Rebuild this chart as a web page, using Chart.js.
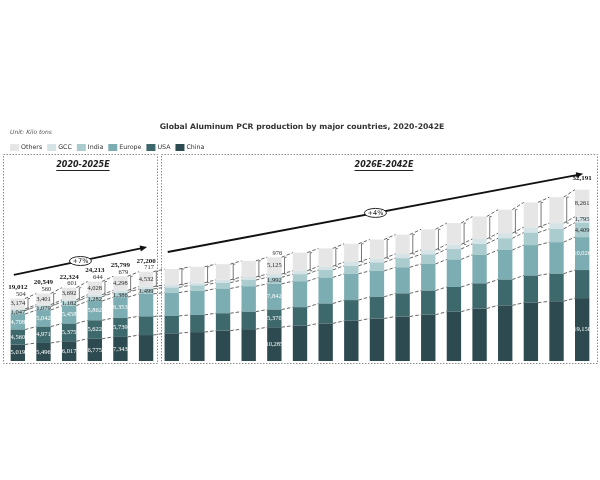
<!DOCTYPE html>
<html>
<head>
<meta charset="utf-8">
<script src="https://cdn.jsdelivr.net/npm/chart.js@4.4.1/dist/chart.umd.min.js"></script>
<style>
  html, body { margin: 0; padding: 0; background: #fff; }
  canvas { display: block; }
</style>
</head>
<body>
<canvas id="pcrChart" width="600" height="480"></canvas>
<script>
// values in kilo tons
const years = ['2020', '2021', '2022', '2023', '2024', '2025E', '2026E', '2027E', '2028E', '2029E', '2030E',
    '2031E', '2032E', '2033E', '2034E', '2035E', '2036E', '2037E', '2038E', '2039E', '2040E', '2041E', '2042E'];
const china  = [5019, 5496, 6017, 6775, 7343, 7900, 8440, 8800, 9250, 9700, 10285, 10750, 11450, 12250, 12950, 13550, 14100, 15000, 16000, 16950, 17750, 18200, 19150];
const usa    = [4560, 4971, 5375, 5622, 5739, 5700, 5280, 5250, 5300, 5330, 5370, 5650, 6050, 6300, 6600, 7050, 7350, 7550, 7650, 7850, 8300, 8400, 8550];
const europe = [4708, 5042, 5458, 5862, 6353, 6852, 7100, 7300, 7530, 7750, 7842, 7900, 7950, 8000, 7900, 7950, 8100, 8400, 8700, 9000, 9250, 9600, 10026];
const india  = [1047, 1079, 1182, 1282, 1386, 1499, 1600, 1700, 1780, 1880, 1992, 2150, 2300, 2450, 2600, 2780, 2950, 3150, 3350, 3580, 3800, 4080, 4409];
const gcc    = [504, 560, 601, 644, 679, 717, 760, 800, 860, 920, 976, 1030, 1090, 1150, 1210, 1280, 1340, 1400, 1480, 1560, 1640, 1720, 1795];
const others = [3174, 3401, 3692, 4028, 4298, 4532, 4820, 4850, 4780, 4920, 5125, 5520, 5460, 5550, 5740, 5890, 6260, 6500, 6820, 7160, 7560, 7900, 8261];
// totals as printed on the chart
const totals = {'2020': 19012, '2021': 20549, '2022': 22324, '2023': 24213, '2024': 25799, '2025E': 27200, '2042E': 52191};

// which bars carry value labels, and labels that are not shown
const labelledYears = ['2020', '2021', '2022', '2023', '2024', '2025E', '2030E', '2042E'];
const hiddenLabels = {'2025E': ['China', 'USA', 'Europe'], '2042E': ['USA']};

// panels and growth arrows
const panelNames = ['2020-2025E', '2026E-2042E'];
const trendFrom = ['2020', '2026E'];
const trendTo = ['2025E', '2042E'];
const trendFromValue = [26200, 33200];
const trendToValue = [34700, 57000];
const trendText = ['+7%', '+4%'];

const seriesNames = ['China', 'USA', 'Europe', 'India', 'GCC', 'Others'];
const seriesColors = ['#2c4a4f', '#3d686c', '#7badb2', '#abcccf', '#d6e3e6', '#e6e6e6'];
const seriesText = ['#ffffff', '#ffffff', '#ffffff', '#2b2b2b', '#2b2b2b', '#2b2b2b'];

const fmt = v => v.toLocaleString('en-US');
const sansFont = '"DejaVu Sans", sans-serif';
const serifFont = '"Liberation Serif", "DejaVu Serif", serif';

const decorations = {
    id: 'decorations',
    beforeDatasetsDraw(chart) {
        const ctx = chart.ctx;
        const x = chart.scales.x;
        const area = chart.chartArea;
        const split = (x.getPixelForValue(5) + x.getPixelForValue(6)) / 2;
        const top = area.top - 10;
        const bottom = area.bottom + 2;

        ctx.save();
        // header texts
        ctx.fillStyle = '#333';
        ctx.font = 'bold 7.7px ' + sansFont;
        ctx.textAlign = 'center';
        ctx.textBaseline = 'middle';
        ctx.fillText('Global Aluminum PCR production by major countries, 2020-2042E', 302, 127);
        ctx.font = 'italic 6px ' + sansFont;
        ctx.fillStyle = '#555';
        ctx.textAlign = 'left';
        ctx.fillText('Unit: Kilo tons', 10, 132);

        // legend, reversed order like the original
        ctx.font = '6.3px ' + sansFont;
        let lx = 10;
        for (let s = seriesNames.length - 1; s >= 0; s--) {
            ctx.fillStyle = seriesColors[s];
            ctx.fillRect(lx, 144, 9, 7);
            ctx.fillStyle = '#333';
            ctx.fillText(seriesNames[s], lx + 11, 147.5);
            lx += 11 + ctx.measureText(seriesNames[s]).width + 5;
        }

        // dotted panel frames
        ctx.strokeStyle = '#8c8c8c';
        ctx.lineWidth = 1;
        ctx.setLineDash([1.5, 1.5]);
        const lefts = [area.left - 2, split + 2];
        const rights = [split - 2, area.right + 2];
        for (let p = 0; p < 2; p++) {
            ctx.strokeRect(Math.round(lefts[p]) + 0.5, top + 0.5, Math.round(rights[p] - lefts[p]), bottom - top);
        }
        ctx.setLineDash([]);

        // panel headings, bold italic underlined
        ctx.font = 'italic bold 8px ' + sansFont;
        ctx.fillStyle = '#222';
        ctx.strokeStyle = '#222';
        ctx.textAlign = 'center';
        const headX = [(lefts[0] + rights[0]) / 2 + 3, (lefts[1] + rights[1]) / 2 + 5];
        for (let p = 0; p < 2; p++) {
            ctx.fillText(panelNames[p], headX[p], top + 11);
            const w = ctx.measureText(panelNames[p]).width;
            ctx.beginPath();
            ctx.moveTo(headX[p] - w / 2, top + 16.5);
            ctx.lineTo(headX[p] + w / 2, top + 16.5);
            ctx.stroke();
        }
        ctx.restore();
    },
    afterDatasetsDraw(chart) {
        const ctx = chart.ctx;
        const x = chart.scales.x;
        const y = chart.scales.y;
        const metas = seriesNames.map((n, s) => chart.getDatasetMeta(s));
        const n = years.length;

        ctx.save();
        // dashed links between the tops of each layer
        ctx.strokeStyle = '#555';
        ctx.lineWidth = 0.9;
        ctx.setLineDash([3.5, 2]);
        for (let s = 0; s < metas.length; s++) {
            for (let i = 0; i < n - 1; i++) {
                const a = metas[s].data[i], b = metas[s].data[i + 1];
                ctx.beginPath();
                ctx.moveTo(a.x + a.width / 2, a.y);
                ctx.lineTo(b.x - b.width / 2, b.y);
                ctx.stroke();
            }
        }
        ctx.setLineDash([]);

        // brackets beside the Others layer
        ctx.strokeStyle = '#555';
        ctx.lineWidth = 0.8;
        const top = metas[5];
        for (let i = 0; i < n - 1; i++) {
            const el = top.data[i];
            const bx = el.x + el.width / 2 + 3;
            ctx.beginPath();
            ctx.moveTo(bx + 2, el.y);
            ctx.lineTo(bx, el.y);
            ctx.lineTo(bx, el.base);
            ctx.lineTo(bx + 2, el.base);
            ctx.stroke();
        }

        // value labels
        ctx.textAlign = 'center';
        ctx.textBaseline = 'middle';
        const values = [china, usa, europe, india, gcc, others];
        labelledYears.forEach(year => {
            const i = years.indexOf(year);
            const hide = hiddenLabels[year] || [];
            for (let s = 0; s < metas.length; s++) {
                if (hide.includes(seriesNames[s])) continue;
                const el = metas[s].data[i];
                let ly = (el.y + el.base) / 2;
                let lxp = el.x;
                if (seriesNames[s] === 'GCC' && year !== '2042E') {
                    ly = metas[5].data[i].y - 4;
                    lxp = el.x + 3;
                }
                ctx.font = '6.5px ' + serifFont;
                ctx.fillStyle = seriesNames[s] === 'GCC' ? '#2b2b2b' : seriesText[s];
                ctx.fillText(fmt(values[s][i]), lxp, ly);
            }
            if (totals[year]) {
                const topY = metas[5].data[i].y;
                ctx.font = 'bold 7px ' + serifFont;
                ctx.fillStyle = '#111';
                ctx.fillText(fmt(totals[year]), x.getPixelForValue(i), topY - 11);
            }
        });

        // growth arrows with their oval tags
        for (let t = 0; t < trendText.length; t++) {
            const x0 = x.getPixelForValue(years.indexOf(trendFrom[t])) - 4;
            const x1 = x.getPixelForValue(years.indexOf(trendTo[t])) + 1;
            const y0 = y.getPixelForValue(trendFromValue[t]);
            const y1 = y.getPixelForValue(trendToValue[t]);
            const ang = Math.atan2(y1 - y0, x1 - x0);
            ctx.strokeStyle = '#111';
            ctx.fillStyle = '#111';
            ctx.lineWidth = 1.8;
            ctx.beginPath();
            ctx.moveTo(x0, y0);
            ctx.lineTo(x1 - 4 * Math.cos(ang), y1 - 4 * Math.sin(ang));
            ctx.stroke();
            ctx.beginPath();
            ctx.moveTo(x1, y1);
            ctx.lineTo(x1 - 7 * Math.cos(ang) + 3 * Math.sin(ang), y1 - 7 * Math.sin(ang) - 3 * Math.cos(ang));
            ctx.lineTo(x1 - 7 * Math.cos(ang) - 3 * Math.sin(ang), y1 - 7 * Math.sin(ang) + 3 * Math.cos(ang));
            ctx.closePath();
            ctx.fill();
            const mx = (x0 + x1) / 2, my = (y0 + y1) / 2;
            ctx.beginPath();
            ctx.ellipse(mx, my, 11, 4.5, 0, 0, Math.PI * 2);
            ctx.fillStyle = '#fff';
            ctx.fill();
            ctx.lineWidth = 0.9;
            ctx.stroke();
            ctx.fillStyle = '#111';
            ctx.font = '6.5px ' + sansFont;
            ctx.fillText(trendText[t], mx, my + 0.5);
        }
        ctx.restore();
    }
};

const pcrCtx = document.getElementById('pcrChart').getContext('2d');
const pcrChart = new Chart(pcrCtx, {
    type: 'bar',
    data: {
        labels: years,
        datasets: [china, usa, europe, india, gcc, others].map((vals, s) => ({
            label: seriesNames[s],
            data: vals,
            backgroundColor: seriesColors[s],
            borderWidth: 0,
            barPercentage: 0.56,
            categoryPercentage: 1
        }))
    },
    options: {
        responsive: false,
        animation: false,
        devicePixelRatio: 1,
        layout: {
            padding: { left: 5, right: 5, top: 164, bottom: 119 }
        },
        plugins: {
            legend: { display: false },
            tooltip: { enabled: false }
        },
        scales: {
            x: { stacked: true, display: false },
            y: { stacked: true, display: false, min: 0, max: 60000 }
        }
    },
    plugins: [decorations]
});
</script>
</body>
</html>
